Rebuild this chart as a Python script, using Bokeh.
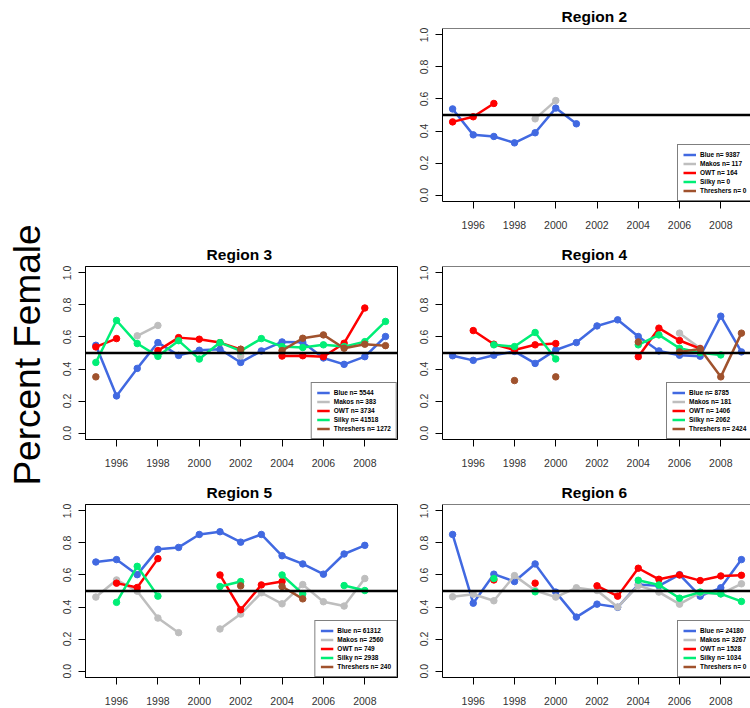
import math
import numpy as np
from bokeh.plotting import figure
from bokeh.models import (Range1d, FixedTicker, Span, Legend, LegendItem, Label,
                          Spacer, ColumnDataSource)
from bokeh.layouts import row, column
from bokeh.embed import file_html
from bokeh.resources import INLINE

N = None
years = list(range(1995, 2010))
species = ["Blue", "Makos", "OWT", "Silky", "Threshers"]
colors = ["#4169E1", "#BEBEBE", "#FF0000", "#00EE76", "#A0522D"]
x_ticks = [1996, 1998, 2000, 2002, 2004, 2006, 2008]
x_tick_labels = ["1996", "1998", "2000", "2002", "2004", "2006", "2008"]
y_ticks = [0.0, 0.2, 0.4, 0.6, 0.8, 1.0]
y_tick_labels = ["0.0", "0.2", "0.4", "0.6", "0.8", "1.0"]
y_label = "Percent Female"

# Region 2
r2_blue = [.538, .376, .366, .326, .389, .543, .445, N, N, N, N, N, N, N, N]
r2_makos = [N, N, N, N, .476, .590, N, N, N, N, N, N, N, N, N]
r2_owt = [.457, .489, .572, N, N, N, N, N, N, N, N, N, N, N, N]
r2_silky = [N] * 15
r2_thresh = [N] * 15
r2_counts = [9387, 117, 164, 0, 0]

# Region 3
r3_blue = [.548, .232, .404, .565, .485, .517, .523, .441, .513, .569, .567, .469, .429, .477, .603]
r3_makos = [N, N, .607, .672, N, N, N, .481, N, N, N, N, N, N, N]
r3_owt = [.538, .590, N, .515, .596, .586, .565, .523, N, .481, .483, .477, .561, .781, N]
r3_silky = [.441, .703, .559, .479, .577, .462, .565, .513, .590, .540, .534, .551, .540, .571, .697]
r3_thresh = [.351, N, N, N, N, N, N, .523, N, .515, .592, .613, .530, .555, .546]
r3_counts = [5544, 383, 3734, 41518, 1272]

# Region 4
r4_blue = [.483, .454, .486, .510, .435, .519, .565, .669, .707, .603, .513, .486, .480, .730, .507]
r4_makos = [N, N, N, N, N, N, N, N, N, N, N, .624, .530, N, N]
r4_owt = [N, .640, .555, .519, .551, .559, N, N, N, .477, .655, .578, .527, N, N]
r4_silky = [N, N, .551, .540, .628, .463, N, N, N, .551, .613, .530, .502, .488, N]
r4_thresh = [N, N, N, .328, N, .351, N, N, N, .569, N, .507, .525, .351, .624]
r4_counts = [8785, 181, 1406, 2062, 2424]

# Region 5
r5_blue = [.681, .696, .602, .760, .772, .853, .870, .805, .853, .720, .669, .605, .731, .785, N]
r5_makos = [.462, .569, .499, .331, .240, N, .263, .356, .489, .420, .540, .433, .406, .578, N]
r5_owt = [N, .549, .522, .702, N, N, .600, .383, .538, .559, N, N, N, N, N]
r5_silky = [N, .429, .654, .468, N, N, .528, .559, N, .600, .482, N, .534, .503, N]
r5_thresh = [N, N, N, N, N, N, N, .532, N, .528, .451, N, N, N, N]
r5_counts = [61312, 2560, 749, 2938, 240]

# Region 6
r6_blue = [.853, .424, .605, .559, .669, .493, .337, .418, .398, .540, .532, .602, .468, .520, .696]
r6_makos = [.464, .480, .439, .596, .503, .462, .520, .503, .400, .534, .493, .418, .489, .482, .545]
r6_owt = [N, N, .569, N, .549, N, N, .532, .468, .642, .573, .600, .565, .594, .598]
r6_silky = [N, N, .578, N, .495, N, N, N, N, .567, .538, .455, .493, .482, .435]
r6_thresh = [N] * 15
r6_counts = [24180, 3267, 1528, 1034, 0]

FONT = "Liberation Sans"


def make_panel(name, series, counts, left_col, height, top, bottom, legend_x=None):
    if left_col:
        width, mbl, mbr, xr = 348, 33, 3, (1994.5, 2009.58)
    else:
        width, mbl, mbr, xr = 350, 42, 0, (1994.51, 2009.44)
    p = figure(width=width, height=height, x_range=Range1d(*xr),
               y_range=Range1d(-0.04, 1.04), output_backend="svg",
               toolbar_location=None, min_border_left=mbl, min_border_right=mbr,
               min_border_top=top, min_border_bottom=bottom, title=name)
    p.grid.visible = False
    p.background_fill_color = "white"
    p.border_fill_color = "white"
    p.title.text_font = FONT
    p.title.text_font_size = "15.5px"
    p.title.text_font_style = "bold"
    p.title.align = "center"
    p.title.standoff = 8
    p.title.text_color = "black"

    for ax, ticks, labels in ((p.xaxis[0], x_ticks, x_tick_labels),
                              (p.yaxis[0], y_ticks, y_tick_labels)):
        ax.ticker = FixedTicker(ticks=ticks)
        ax.major_label_overrides = {t: l for t, l in zip(ticks, labels)}
        ax.minor_tick_line_color = None
        ax.major_tick_out = 7
        ax.major_tick_in = 0
        ax.major_tick_line_color = "black"
        ax.axis_line_color = "black"
        ax.major_label_text_font = FONT
        ax.major_label_text_font_size = "10.5px"
        ax.major_label_text_color = "#333333"
    p.xaxis.major_label_standoff = 12
    p.yaxis.major_label_standoff = 7
    p.yaxis.major_label_orientation = "vertical"

    items = []
    for sp, col, vals, n in zip(species, colors, series, counts):
        src = ColumnDataSource(dict(x=years, y=np.array(vals, dtype=float)))
        lr = p.line("x", "y", source=src, line_color=col, line_width=2.5)
        p.scatter("x", "y", source=src, size=6.5, fill_color=col, line_color=col)
        items.append(LegendItem(label=f"{sp} n= {n}", renderers=[lr]))

    p.add_layout(Span(location=0.5, dimension="width", line_color="black", line_width=2.5))

    if left_col:
        p.outline_line_color = "black"
        p.outline_line_width = 1
        loc = "bottom_right"
    else:
        p.outline_line_color = None
        p.add_layout(Span(location=1.04, dimension="width", line_color="black", line_width=1))
        loc = (legend_x, 0)

    leg = Legend(items=items, location=loc, margin=0, padding=5, spacing=0,
                 glyph_width=13, glyph_height=9, label_height=9, label_standoff=4,
                 label_text_font=FONT, label_text_font_size="6.5px",
                 label_text_font_style="bold", label_text_color="black",
                 border_line_color="black", border_line_width=1,
                 background_fill_color="white", background_fill_alpha=1.0)
    p.add_layout(leg)
    return p


f2 = make_panel("Region  2", [r2_blue, r2_makos, r2_owt, r2_silky, r2_thresh], r2_counts,
                False, 238, 28, 37, legend_x=235)
f3 = make_panel("Region  3", [r3_blue, r3_makos, r3_owt, r3_silky, r3_thresh], r3_counts,
                True, 239, 28, 38)
f4 = make_panel("Region  4", [r4_blue, r4_makos, r4_owt, r4_silky, r4_thresh], r4_counts,
                False, 239, 28, 38, legend_x=224)
f5 = make_panel("Region  5", [r5_blue, r5_makos, r5_owt, r5_silky, r5_thresh], r5_counts,
                True, 231, 27, 31)
f6 = make_panel("Region  6", [r6_blue, r6_makos, r6_owt, r6_silky, r6_thresh], r6_counts,
                False, 231, 27, 31, legend_x=235)

strip = figure(width=52, height=708, x_range=Range1d(0, 52), y_range=Range1d(0, 708),
               output_backend="svg", toolbar_location=None, min_border=0)
strip.axis.visible = False
strip.grid.visible = False
strip.outline_line_color = None
strip.add_layout(Label(x=27, y=353.5, text=y_label, angle=math.pi / 2,
                       text_align="center", text_baseline="alphabetic",
                       text_font=FONT, text_font_size="37px", text_color="black"))

layout = row(strip, column(row(Spacer(width=348, height=238), f2),
                           row(f3, f4), row(f5, f6)))

open("out.html", "w").write(file_html(layout, INLINE, title="Percent Female"))
